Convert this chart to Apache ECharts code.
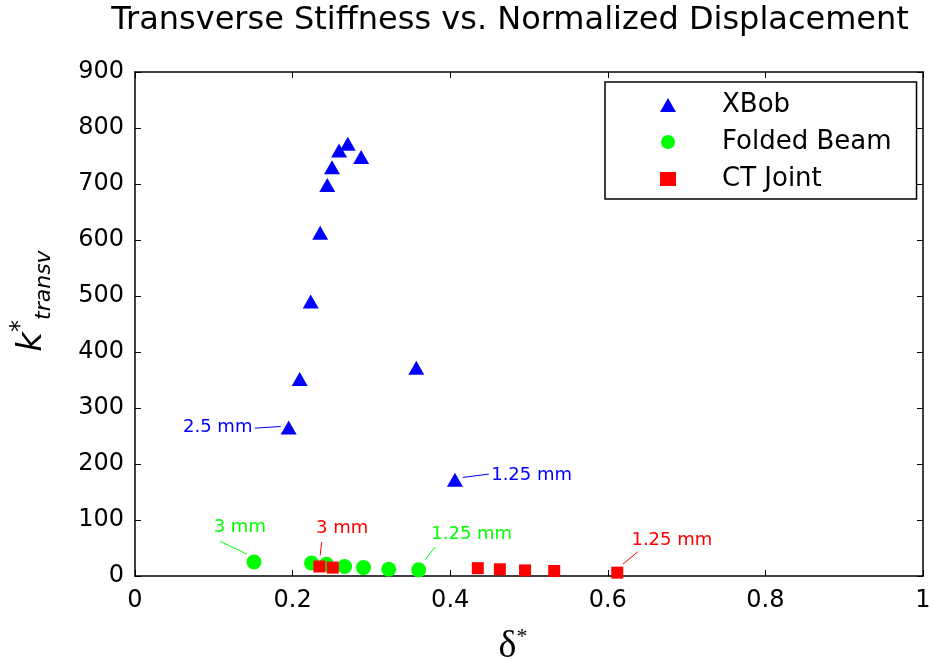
<!DOCTYPE html>
<html>
<head>
<meta charset="utf-8">
<script src="https://cdn.jsdelivr.net/npm/echarts@6/dist/echarts.min.js"></script>
<style>
  html, body { margin: 0; padding: 0; background: #fff; }
  #chart { width: 929px; height: 659px; }
</style>
</head>
<body>
<div id="chart"></div>
<script>
// Normalized displacement (delta*) and transverse stiffness (k*) per flexure type
const xbobDelta   = [0.195, 0.209, 0.223, 0.235, 0.244, 0.250, 0.259, 0.270, 0.287, 0.357, 0.406];
const xbobStiff   = [265, 352, 490, 613, 698, 730, 760, 772, 748, 372, 172];
const foldedDelta = [0.151, 0.224, 0.243, 0.266, 0.290, 0.322, 0.360];
const foldedStiff = [25, 23, 21, 17, 15, 12, 11];
const ctDelta     = [0.234, 0.251, 0.435, 0.463, 0.495, 0.532, 0.612];
const ctStiff     = [17, 15, 14, 12, 10, 9, 6];

const seriesNames = ['XBob', 'Folded Beam', 'CT Joint'];

// Thickness callouts: text anchor and leader line, in data units
const xbobNotes = [
  { text: '2.5 mm',  at: [0.149, 265], align: 'right',  lead: [[0.152, 264], [0.185, 267]] },
  { text: '1.25 mm', at: [0.452, 180], align: 'left',   lead: [[0.416, 176], [0.449, 182]] }
];
const foldedNotes = [
  { text: '3 mm',    at: [0.133, 87],  align: 'center', lead: [[0.108, 62], [0.142, 39]] },
  { text: '1.25 mm', at: [0.376, 75],  align: 'left',   lead: [[0.381, 52], [0.368, 29]] }
];
const ctNotes = [
  { text: '3 mm',    at: [0.263, 86],  align: 'center', lead: [[0.237, 61], [0.235, 37]] },
  { text: '1.25 mm', at: [0.630, 64],  align: 'left',   lead: [[0.638, 43], [0.619, 21]] }
];

const SANS = '"DejaVu Sans", sans-serif';
const SERIF = '"Liberation Serif", serif';

function pairs(xs, ys) { return xs.map((x, i) => [x, ys[i]]); }

function callouts(notes, color) {
  return {
    markPoint: {
      silent: true,
      symbol: 'rect',
      symbolSize: 0,
      animation: false,
      data: notes.map(n => ({
        coord: n.at,
        label: {
          show: true,
          position: 'inside',
          formatter: n.text,
          align: n.align,
          verticalAlign: 'middle',
          color: color,
          fontFamily: SANS,
          fontSize: 18
        }
      }))
    },
    markLine: {
      silent: true,
      symbol: ['none', 'none'],
      animation: false,
      label: { show: false },
      lineStyle: { color: color, width: 1, type: 'solid' },
      data: notes.map(n => [{ coord: n.lead[0] }, { coord: n.lead[1] }])
    }
  };
}

const axisLine = { show: true, onZero: false, lineStyle: { color: '#000', width: 1.5 } };
const axisTick = { show: true, inside: true, length: 6, lineStyle: { color: '#000', width: 1 } };

const chart = echarts.init(document.getElementById('chart'));
chart.setOption({
  animation: false,
  backgroundColor: '#fff',
  title: {
    text: 'Transverse Stiffness vs. Normalized Displacement',
    left: 505,
    textAlign: 'center',
    top: 0,
    textStyle: { fontFamily: SANS, fontSize: 32, fontWeight: 'normal', color: '#000' }
  },
  legend: {
    orient: 'vertical',
    left: 605,
    top: 82,
    padding: [10, 25, 7, 55],
    itemWidth: 16,
    itemHeight: 14,
    itemGap: 11,
    borderColor: '#000',
    borderWidth: 1.5,
    backgroundColor: '#fff',
    data: seriesNames,
    textStyle: { fontFamily: SANS, fontSize: 26, color: '#000', padding: [0, 0, 0, 41] }
  },
  grid: { left: 135, right: 6, top: 72, bottom: 83, containLabel: false, outerBoundsMode: 'none' },
  xAxis: [
    {
      type: 'value', min: 0, max: 1, interval: 0.2, position: 'bottom',
      name: '{d|δ}{s|*}', nameLocation: 'middle', nameGap: 50,
      nameTextStyle: {
        padding: [0, 32, 0, 0],
        rich: {
          d: { fontFamily: SERIF, fontSize: 38, color: '#000', lineHeight: 40, verticalAlign: 'bottom' },
          s: { fontFamily: SERIF, fontSize: 22, color: '#000', lineHeight: 40, verticalAlign: 'top' }
        }
      },
      axisLine: axisLine, axisTick: axisTick, splitLine: { show: false },
      axisLabel: { color: '#000', fontFamily: SANS, fontSize: 24, margin: 13 }
    },
    {
      type: 'value', min: 0, max: 1, interval: 0.2, position: 'top',
      axisLine: axisLine, axisTick: axisTick, splitLine: { show: false },
      axisLabel: { show: false }
    }
  ],
  yAxis: [
    {
      type: 'value', min: 0, max: 900, interval: 100, position: 'left',
      name: '{k|k}{s|*}{t|transv}', nameLocation: 'middle', nameRotate: 90, nameGap: 80,
      nameTextStyle: {
        padding: [0, 0, 0, 46],
        rich: {
          k: { fontFamily: SANS, fontStyle: 'italic', fontSize: 34, color: '#000', lineHeight: 46, verticalAlign: 'middle' },
          s: { fontFamily: SANS, fontSize: 24, color: '#000', lineHeight: 46, verticalAlign: 'top' },
          t: { fontFamily: SANS, fontStyle: 'italic', fontSize: 22, color: '#000', lineHeight: 46, verticalAlign: 'bottom' }
        }
      },
      axisLine: axisLine, axisTick: axisTick, splitLine: { show: false },
      axisLabel: { color: '#000', fontFamily: SANS, fontSize: 24, margin: 11 }
    },
    {
      type: 'value', min: 0, max: 900, interval: 100, position: 'right',
      axisLine: axisLine, axisTick: axisTick, splitLine: { show: false },
      axisLabel: { show: false }
    }
  ],
  series: [
    Object.assign({
      name: seriesNames[0], type: 'scatter', symbol: 'triangle', symbolSize: [16, 14],
      itemStyle: { color: '#0000ff', opacity: 1 },
      data: pairs(xbobDelta, xbobStiff), z: 3
    }, callouts(xbobNotes, '#0000ff')),
    Object.assign({
      name: seriesNames[1], type: 'scatter', symbol: 'circle', symbolSize: 15,
      itemStyle: { color: '#00ff00', opacity: 1 },
      data: pairs(foldedDelta, foldedStiff), z: 4
    }, callouts(foldedNotes, '#00ff00')),
    Object.assign({
      name: seriesNames[2], type: 'scatter', symbol: 'rect', symbolSize: 12,
      itemStyle: { color: '#ff0000', opacity: 1 },
      data: pairs(ctDelta, ctStiff), z: 5
    }, callouts(ctNotes, '#ff0000'))
  ]
});
</script>
</body>
</html>
